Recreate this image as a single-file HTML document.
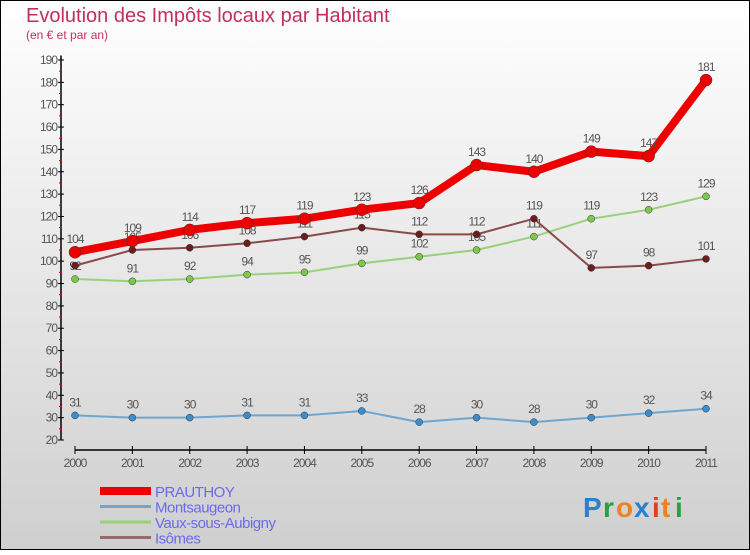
<!DOCTYPE html>
<html><head><meta charset="utf-8"><style>
html,body{margin:0;padding:0}
body{width:750px;height:550px;overflow:hidden;font-family:"Liberation Sans",sans-serif}
</style></head><body>
<svg width="750" height="550" xmlns="http://www.w3.org/2000/svg">
<defs><linearGradient id="bg" x1="0" y1="0" x2="0" y2="1"><stop offset="0" stop-color="#ffffff"/><stop offset="1" stop-color="#cfcfcf"/></linearGradient></defs>
<rect x="0.5" y="0.5" width="749" height="549" fill="url(#bg)" stroke="#000"/>
<text x="26" y="22" font-size="20" fill="#c0305a">Evolution des Impôts locaux par Habitant</text>
<text x="26" y="39" font-size="12" fill="#c0305a">(en € et par an)</text>
<g id="axes"></g>
<g id="series"></g>
<g id="legend"></g>
<g font-size="28" font-weight="bold">
<text x="583" y="517" fill="#2a7fd0">P</text><text x="603" y="517" fill="#2aa040">r</text><text x="616" y="517" fill="#f08020">o</text><text x="634" y="517" fill="#2a7fd0">x</text><text x="652" y="517" fill="#e04020">i</text><text x="661" y="517" fill="#f08020">t</text><text x="675" y="517" fill="#2aa040">i</text>
</g>
</svg>
<script>
const years=["2000","2001","2002","2003","2004","2005","2006","2007","2008","2009","2010","2011"];
const prauthoy=[104,109,114,117,119,123,126,143,140,149,147,181];
const montsaugeon=[31,30,30,31,31,33,28,30,28,30,32,34];
const vaux=[92,91,92,94,95,99,102,105,111,119,123,129];
const isomes=[98,105,106,108,111,115,112,112,119,97,98,101];
const yTicks=[20,30,40,50,60,70,80,90,100,110,120,130,140,150,160,170,180,190];
const NS="http://www.w3.org/2000/svg";
const X=i=>75+i*(706-75)/11;
const Y=v=>440-(v-20)*(380/170);
function mk(tag,attrs,parent){const e=document.createElementNS(NS,tag);for(const k in attrs)e.setAttribute(k,attrs[k]);parent.appendChild(e);return e;}
const ax=document.getElementById('axes');
let a=mk('line',{x1:61,y1:Y(192),x2:61,y2:440,stroke:'#000','stroke-width':1.5},ax);


a=mk('line',{x1:75,y1:450,x2:706,y2:450,stroke:'#000','stroke-width':1.5},ax);


yTicks.forEach(v=>{
 mk('line',{x1:58,y1:Y(v),x2:64,y2:Y(v),stroke:'#000'},ax);
 if(v<190)mk('line',{x1:59,y1:Y(v+5),x2:62,y2:Y(v+5),stroke:'#e00000'},ax);
 const t=mk('text',{x:57,y:Y(v)+4,'font-size':12,fill:'#555','text-anchor':'end','letter-spacing':'-1'},ax);
 t.textContent=v;
 
 
});
years.forEach((y,i)=>{
 mk('line',{x1:X(i),y1:446,x2:X(i),y2:454,stroke:'#000'},ax);
 const t=mk('text',{x:X(i),y:467,'font-size':12,fill:'#555','text-anchor':'middle','letter-spacing':'-1'},ax);
 t.textContent=y;
 
 
});
const sg=document.getElementById('series');
function series(data,color,dot,w,r,name){
 const g=mk('g',{},sg);
 
 
 const p=mk('polyline',{points:data.map((v,i)=>X(i)+','+Y(v)).join(' '),fill:'none',stroke:color,'stroke-width':w,'stroke-linejoin':'round'},g);
 
 
 data.forEach((v,i)=>{
  const c=mk('circle',{cx:X(i),cy:Y(v),r:r,fill:dot,stroke:'#333','stroke-width':0.5},g);
  
  
  const t=mk('text',{x:X(i),y:Y(v)-9,'font-size':12,fill:'#555','text-anchor':'middle','letter-spacing':'-1'},g);
  t.textContent=v;
  
  
 });
}
series(montsaugeon,'#6fa6d0','#3d8ccc',2,3.5,'montsaugeon');
series(vaux,'#9ad07a','#7cc84e',2,3.5,'vaux-sous-aubigny');
series(isomes,'#8a4a4a','#6a1e1e',2,3.5,'isomes');
series(prauthoy,'#ee0000','#ee0000',8,6,'prauthoy');
const lg=document.getElementById('legend');
[['PRAUTHOY','#ee0000',8],['Montsaugeon','#6fa6d0',3],['Vaux-sous-Aubigny','#9ad07a',3],['Isômes','#9a6a6a',3]].forEach((s,i)=>{
 const y=491+i*15.5;
 const g=mk('g',{},lg);
 
 
 mk('line',{x1:100,y1:y,x2:151,y2:y,stroke:s[1],'stroke-width':s[2]},g);
 const t=mk('text',{x:155,y:y+6,'font-size':15,fill:'#6a6aee','letter-spacing':'-0.5'},g);
 t.textContent=s[0];
});
</script>
</body></html>
